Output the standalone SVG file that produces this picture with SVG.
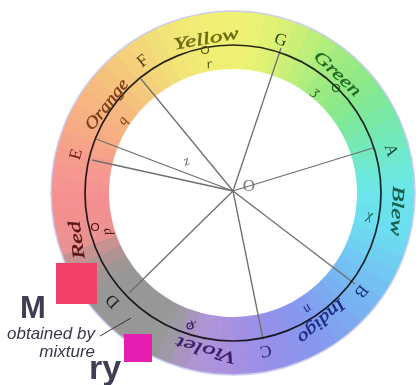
<svg xmlns="http://www.w3.org/2000/svg" width="419" height="385" viewBox="0 0 419 385">
<style>
.seg{fill:none;stroke-width:58;stroke-dasharray:13.9 950}
.lbl{font-family:"Liberation Serif","DejaVu Serif",serif;font-style:italic;font-size:17px;text-anchor:middle;stroke-width:0.35;paint-order:stroke}
.pt{font-family:"Liberation Serif","DejaVu Serif",serif;font-size:17px;text-anchor:middle}
.sm{font-family:"Liberation Serif","DejaVu Serif",serif;font-style:italic;font-size:14px;text-anchor:middle}
.ray{stroke:#6E6E6E;stroke-width:1.3;fill:none}
.mk{fill:none;stroke-width:1.2}
.big{font-family:"Liberation Sans",Arial,sans-serif;font-weight:bold;fill:#3E3F55}
.cap{font-family:"Liberation Sans",Arial,sans-serif;font-style:italic;font-size:17px;fill:#38384A}
</style>
<rect width="419" height="385" fill="#fff"/>
<g id="ring">
<circle class="seg" cx="233" cy="193" r="153" stroke="#6CE4ED" transform="rotate(0 233 193)"/>
<circle class="seg" cx="233" cy="193" r="153" stroke="#6CE1EE" transform="rotate(5 233 193)"/>
<circle class="seg" cx="233" cy="193" r="153" stroke="#6CDEEF" transform="rotate(10 233 193)"/>
<circle class="seg" cx="233" cy="193" r="153" stroke="#6DD8F0" transform="rotate(15 233 193)"/>
<circle class="seg" cx="233" cy="193" r="153" stroke="#6FD0F1" transform="rotate(20 233 193)"/>
<circle class="seg" cx="233" cy="193" r="153" stroke="#71C8F2" transform="rotate(25 233 193)"/>
<circle class="seg" cx="233" cy="193" r="153" stroke="#73C0F2" transform="rotate(30 233 193)"/>
<circle class="seg" cx="233" cy="193" r="153" stroke="#76B9F2" transform="rotate(35 233 193)"/>
<circle class="seg" cx="233" cy="193" r="153" stroke="#79B2F2" transform="rotate(40 233 193)"/>
<circle class="seg" cx="233" cy="193" r="153" stroke="#7CAAF1" transform="rotate(45 233 193)"/>
<circle class="seg" cx="233" cy="193" r="153" stroke="#80A3F0" transform="rotate(50 233 193)"/>
<circle class="seg" cx="233" cy="193" r="153" stroke="#849CEF" transform="rotate(55 233 193)"/>
<circle class="seg" cx="233" cy="193" r="153" stroke="#8897ED" transform="rotate(60 233 193)"/>
<circle class="seg" cx="233" cy="193" r="153" stroke="#8D94EC" transform="rotate(65 233 193)"/>
<circle class="seg" cx="233" cy="193" r="153" stroke="#9291EB" transform="rotate(70 233 193)"/>
<circle class="seg" cx="233" cy="193" r="153" stroke="#9790E9" transform="rotate(75 233 193)"/>
<circle class="seg" cx="233" cy="193" r="153" stroke="#9D90E6" transform="rotate(80 233 193)"/>
<circle class="seg" cx="233" cy="193" r="153" stroke="#A390E3" transform="rotate(85 233 193)"/>
<circle class="seg" cx="233" cy="193" r="153" stroke="#A991E0" transform="rotate(90 233 193)"/>
<circle class="seg" cx="233" cy="193" r="153" stroke="#AD93DC" transform="rotate(95 233 193)"/>
<circle class="seg" cx="233" cy="193" r="153" stroke="#AE94D1" transform="rotate(100 233 193)"/>
<circle class="seg" cx="233" cy="193" r="153" stroke="#A894BE" transform="rotate(105 233 193)"/>
<circle class="seg" cx="233" cy="193" r="153" stroke="#9F98A9" transform="rotate(110 233 193)"/>
<circle class="seg" cx="233" cy="193" r="153" stroke="#999999" transform="rotate(115 233 193)"/>
<circle class="seg" cx="233" cy="193" r="153" stroke="#979797" transform="rotate(120 233 193)"/>
<circle class="seg" cx="233" cy="193" r="153" stroke="#979797" transform="rotate(125 233 193)"/>
<circle class="seg" cx="233" cy="193" r="153" stroke="#979797" transform="rotate(130 233 193)"/>
<circle class="seg" cx="233" cy="193" r="153" stroke="#979797" transform="rotate(135 233 193)"/>
<circle class="seg" cx="233" cy="193" r="153" stroke="#979797" transform="rotate(140 233 193)"/>
<circle class="seg" cx="233" cy="193" r="153" stroke="#9F9696" transform="rotate(145 233 193)"/>
<circle class="seg" cx="233" cy="193" r="153" stroke="#B09393" transform="rotate(150 233 193)"/>
<circle class="seg" cx="233" cy="193" r="153" stroke="#C99292" transform="rotate(155 233 193)"/>
<circle class="seg" cx="233" cy="193" r="153" stroke="#E99292" transform="rotate(160 233 193)"/>
<circle class="seg" cx="233" cy="193" r="153" stroke="#ED9191" transform="rotate(165 233 193)"/>
<circle class="seg" cx="233" cy="193" r="153" stroke="#F29090" transform="rotate(170 233 193)"/>
<circle class="seg" cx="233" cy="193" r="153" stroke="#F49190" transform="rotate(175 233 193)"/>
<circle class="seg" cx="233" cy="193" r="153" stroke="#F59490" transform="rotate(180 233 193)"/>
<circle class="seg" cx="233" cy="193" r="153" stroke="#F69790" transform="rotate(185 233 193)"/>
<circle class="seg" cx="233" cy="193" r="153" stroke="#F69C8E" transform="rotate(190 233 193)"/>
<circle class="seg" cx="233" cy="193" r="153" stroke="#F6A489" transform="rotate(195 233 193)"/>
<circle class="seg" cx="233" cy="193" r="153" stroke="#F6AB85" transform="rotate(200 233 193)"/>
<circle class="seg" cx="233" cy="193" r="153" stroke="#F6B083" transform="rotate(205 233 193)"/>
<circle class="seg" cx="233" cy="193" r="153" stroke="#F6B581" transform="rotate(210 233 193)"/>
<circle class="seg" cx="233" cy="193" r="153" stroke="#F6BB7F" transform="rotate(215 233 193)"/>
<circle class="seg" cx="233" cy="193" r="153" stroke="#F5C27D" transform="rotate(220 233 193)"/>
<circle class="seg" cx="233" cy="193" r="153" stroke="#F4C97B" transform="rotate(225 233 193)"/>
<circle class="seg" cx="233" cy="193" r="153" stroke="#F4D07A" transform="rotate(230 233 193)"/>
<circle class="seg" cx="233" cy="193" r="153" stroke="#F3D779" transform="rotate(235 233 193)"/>
<circle class="seg" cx="233" cy="193" r="153" stroke="#F2DE78" transform="rotate(240 233 193)"/>
<circle class="seg" cx="233" cy="193" r="153" stroke="#F2E477" transform="rotate(245 233 193)"/>
<circle class="seg" cx="233" cy="193" r="153" stroke="#F1E876" transform="rotate(250 233 193)"/>
<circle class="seg" cx="233" cy="193" r="153" stroke="#F0EC75" transform="rotate(255 233 193)"/>
<circle class="seg" cx="233" cy="193" r="153" stroke="#F0EF74" transform="rotate(260 233 193)"/>
<circle class="seg" cx="233" cy="193" r="153" stroke="#EFF073" transform="rotate(265 233 193)"/>
<circle class="seg" cx="233" cy="193" r="153" stroke="#EEF172" transform="rotate(270 233 193)"/>
<circle class="seg" cx="233" cy="193" r="153" stroke="#E9F273" transform="rotate(275 233 193)"/>
<circle class="seg" cx="233" cy="193" r="153" stroke="#E0F174" transform="rotate(280 233 193)"/>
<circle class="seg" cx="233" cy="193" r="153" stroke="#D7F075" transform="rotate(285 233 193)"/>
<circle class="seg" cx="233" cy="193" r="153" stroke="#CBEF77" transform="rotate(290 233 193)"/>
<circle class="seg" cx="233" cy="193" r="153" stroke="#BDEE7A" transform="rotate(295 233 193)"/>
<circle class="seg" cx="233" cy="193" r="153" stroke="#AFED7D" transform="rotate(300 233 193)"/>
<circle class="seg" cx="233" cy="193" r="153" stroke="#A3EB80" transform="rotate(305 233 193)"/>
<circle class="seg" cx="233" cy="193" r="153" stroke="#99EA83" transform="rotate(310 233 193)"/>
<circle class="seg" cx="233" cy="193" r="153" stroke="#8FE986" transform="rotate(315 233 193)"/>
<circle class="seg" cx="233" cy="193" r="153" stroke="#87E88E" transform="rotate(320 233 193)"/>
<circle class="seg" cx="233" cy="193" r="153" stroke="#80E899" transform="rotate(325 233 193)"/>
<circle class="seg" cx="233" cy="193" r="153" stroke="#79E8A4" transform="rotate(330 233 193)"/>
<circle class="seg" cx="233" cy="193" r="153" stroke="#75E8B1" transform="rotate(335 233 193)"/>
<circle class="seg" cx="233" cy="193" r="153" stroke="#72E8BF" transform="rotate(340 233 193)"/>
<circle class="seg" cx="233" cy="193" r="153" stroke="#6FE8CD" transform="rotate(345 233 193)"/>
<circle class="seg" cx="233" cy="193" r="153" stroke="#6DE8DA" transform="rotate(350 233 193)"/>
<circle class="seg" cx="233" cy="193" r="153" stroke="#6CE7E6" transform="rotate(355 233 193)"/>
<circle cx="233" cy="193" r="182" fill="none" stroke="#CCCCF0" stroke-width="1.5"/>
</g>
<g id="connectors">
<line class="ray" x1="233" y1="191" x2="141" y2="79"/>
<line class="ray" x1="233" y1="191" x2="281" y2="48"/>
<line class="ray" x1="233" y1="191" x2="373" y2="148"/>
<line class="ray" x1="233" y1="191" x2="355" y2="284"/>
<line class="ray" x1="233" y1="191" x2="263" y2="339"/>
<line class="ray" x1="233" y1="191" x2="129" y2="293"/>
<line class="ray" x1="233" y1="191" x2="96" y2="139"/>
<line class="ray" x1="233" y1="191" x2="92" y2="160"/>
<line x1="100" y1="336" x2="131" y2="318" stroke="#333" stroke-width="1"/>
</g>
<g id="circle">
<circle cx="233" cy="193" r="148" fill="none" stroke="#2A2A2A" stroke-width="1.7" style="mix-blend-mode:multiply"/>
<circle class="mk" cx="205" cy="50" r="3.5" stroke="#5A5A10"/>
<circle class="mk" cx="336" cy="88" r="3.5" stroke="#1E5A1E"/>
<circle class="mk" cx="95" cy="227" r="3.5" stroke="#5A1414"/>
<circle class="mk" cx="190" cy="326" r="3" stroke="#3A1C6A"/>
</g>
<g id="labels">
<text class="lbl" transform="translate(206 38) rotate(-10)" y="6" font-size="19" textLength="66" lengthAdjust="spacingAndGlyphs" fill="#6A6810" stroke="#6A6810">Yellow</text>
<text class="lbl" transform="translate(106 104) rotate(-52)" y="6" textLength="60" lengthAdjust="spacingAndGlyphs" fill="#7A3A12" stroke="#7A3A12">Orange</text>
<text class="lbl" transform="translate(338 73) rotate(43)" y="6" textLength="58" lengthAdjust="spacingAndGlyphs" fill="#1E6A1E" stroke="#1E6A1E">Green</text>
<text class="lbl" transform="translate(398 211) rotate(93)" y="6" textLength="50" lengthAdjust="spacingAndGlyphs" fill="#155A4A" stroke="#155A4A">Blew</text>
<text class="lbl" transform="translate(322 322) rotate(138)" y="6" textLength="58" lengthAdjust="spacingAndGlyphs" fill="#1A2A80" stroke="#1A2A80">Indigo</text>
<text class="lbl" transform="translate(206 351) rotate(196)" y="6" textLength="62" lengthAdjust="spacingAndGlyphs" fill="#3A1C6A" stroke="#3A1C6A">Violet</text>
<text class="lbl" transform="translate(76 240) rotate(-98)" y="6" textLength="38" lengthAdjust="spacingAndGlyphs" fill="#5A1414" stroke="#5A1414">Red</text>
<text class="pt" transform="translate(142 60) rotate(-38)" y="6" fill="#5A3A10">F</text>
<text class="pt" transform="translate(281 39) rotate(15)" y="6" fill="#2A4A10">G</text>
<text class="pt" transform="translate(392 150) rotate(72)" y="6" fill="#1A4A3A">A</text>
<text class="pt" transform="translate(362 292) rotate(128)" y="6" fill="#1A2A70">B</text>
<text class="pt" transform="translate(266 352) rotate(170)" y="6" fill="#2A1A60">C</text>
<text class="pt" transform="translate(112 302) rotate(225)" y="6" fill="#222">D</text>
<text class="pt" transform="translate(75 154) rotate(-75)" y="6" fill="#6A2010">E</text>
<text class="sm" transform="translate(122 120) rotate(-55)" y="5" fill="#7A3A12">q</text>
<text class="sm" transform="translate(209 63) rotate(-10)" y="5" fill="#5A5A10">r</text>
<text class="sm" transform="translate(317 91) rotate(40)" y="5" fill="#1E5A1E">ʒ</text>
<text class="sm" transform="translate(370 214) rotate(10)" y="5" fill="#155A4A">χ</text>
<text class="sm" transform="translate(306 307) rotate(-40)" y="5" fill="#1A2A80">u</text>
<text class="sm" transform="translate(192 326) rotate(190)" y="5" fill="#3A1C6A">x</text>
<text class="sm" transform="translate(106 232) rotate(-100)" y="5" fill="#5A1414">p</text>
<text class="sm" transform="translate(186 160) rotate(-20)" y="5" fill="#666">z</text>
<text class="pt" x="249" y="191" font-size="14" fill="#777">O</text>
</g>
<g id="legend">
<rect x="56" y="263" width="41" height="41" fill="#F2426C"/>
<rect x="124" y="334" width="28" height="28" fill="#E41FB0"/>
<text class="big" x="20" y="318" font-size="31">M</text>
<text class="cap" x="7" y="339">obtained by</text>
<text class="cap" x="95" y="357" text-anchor="end">mixture</text>
<text class="big" x="89" y="379" font-size="34">ry</text>
</g>
</svg>
